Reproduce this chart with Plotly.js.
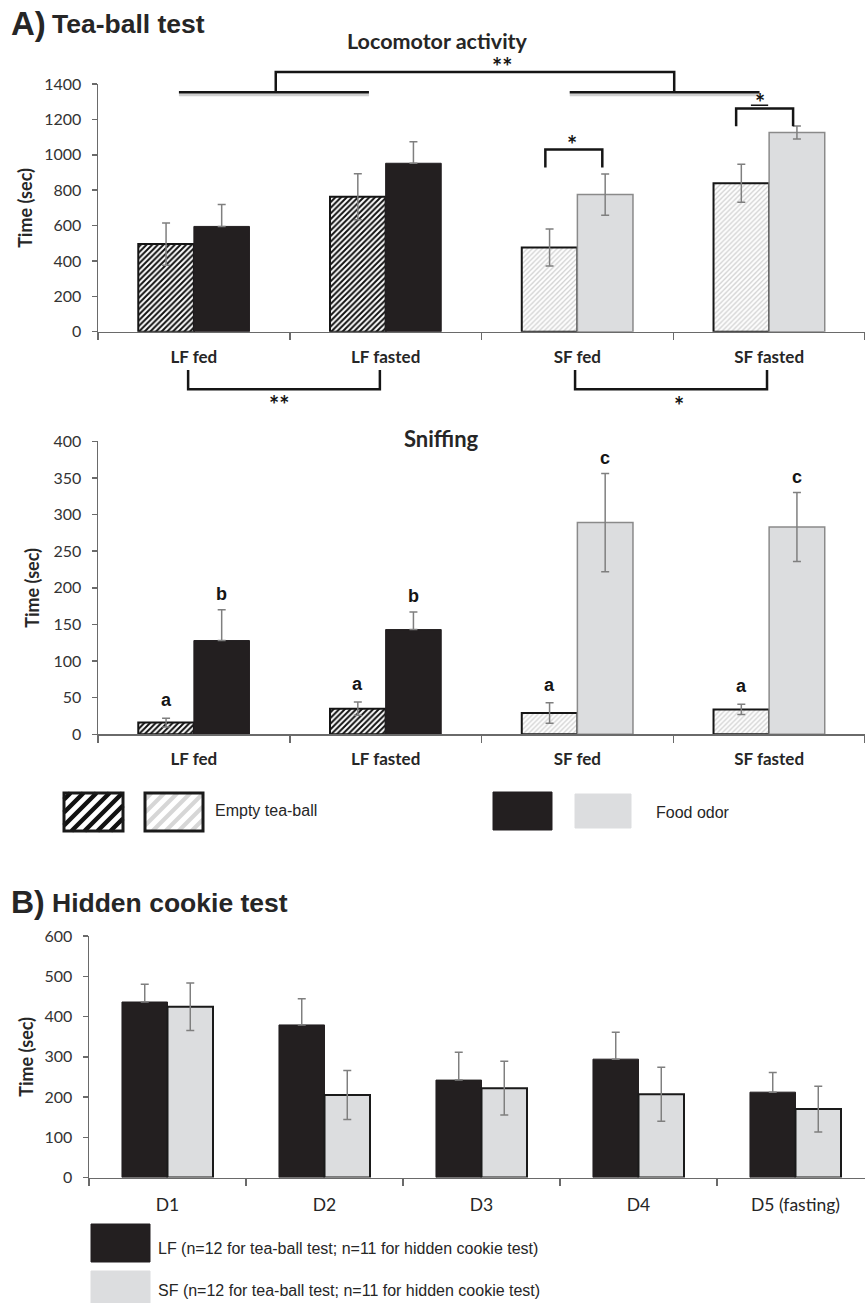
<!DOCTYPE html>
<html><head><meta charset="utf-8">
<script src="https://cdn.plot.ly/plotly-3.0.1.min.js"></script>
<style>html,body{margin:0;padding:0;background:#fff}#chart{width:865px;height:1303px}</style>
</head><body><div id="chart"></div>
<script>
// ---------------- Data ----------------
const teaCategories = ["LF fed", "LF fasted", "SF fed", "SF fasted"];
const teaGroup = ["LF", "LF", "SF", "SF"];
const locoEmpty = [495, 763, 476, 839];
const locoEmptyErr = [120, 130, 104, 108];
const locoFood = [595, 952, 775, 1126];
const locoFoodErr = [124, 122, 117, 37];
const sniffEmpty = [16, 35, 29, 34];
const sniffEmptyErr = [6, 9, 14, 7];
const sniffFood = [128, 143, 289, 283];
const sniffFoodErr = [42, 24, 67, 47];
const sniffEmptyLetters = ["a", "a", "a", "a"];
const sniffFoodLetters = ["b", "b", "c", "c"];
const cookieCategories = ["D1", "D2", "D3", "D4", "D5 (fasting)"];
const cookieLF = [436, 379, 242, 294, 212];
const cookieLFErr = [44, 65, 69, 67, 49];
const cookieSF = [424, 205, 222, 207, 170];
const cookieSFErr = [59, 61, 67, 67, 57];

// ---------------- Styling ----------------
const W = 865, H = 1303;
const px = x => x / W, py = y => 1 - y / H;
const BLACK = '#231f20', GRAY = '#dcdddf', ERR = '#7f7f7f', AXIS = '#6a6a6a', TXT = '#262626';
const CAL = 'Lato, "Open Sans", sans-serif';
const ARI = '"Liberation Sans", Arial, sans-serif';
const BARGAP = 0.42;

const dom1x = [px(98), 1], dom1y = [py(331.7), py(84)];
const dom2x = [px(98), 1], dom2y = [py(734.3), py(441.3)];
const dom3x = [px(89), 1], dom3y = [py(1177.5), py(936)];
const range1x = [-0.5, 3.5], range3x = [-0.5, -0.5 + (W - 89) / 157];

const isLF = teaGroup.map(g => g === 'LF');
const barW = (1 - BARGAP) / 2;

function emptyMarker() {
  return {
    color: 'white',
    pattern: {
      shape: '/',
      fgcolor: isLF.map(l => l ? '#111111' : '#cdcdcd'),
      bgcolor: 'white',
      size: isLF.map(l => l ? 4 : 3.5),
      solidity: isLF.map(l => l ? 0.5 : 0.35)
    },
    line: { color: '#151515', width: 2 }
  };
}
function foodMarker() {
  return {
    color: isLF.map(l => l ? BLACK : GRAY),
    line: { color: isLF.map(l => l ? BLACK : '#8a8a8a'), width: isLF.map(l => l ? 1 : 1.5) }
  };
}
function errSym(arr) {
  return { type: 'data', array: arr, visible: true, color: ERR, thickness: 1.5, width: 4 };
}
function errUpperFor(arr, mask) {
  return { type: 'data', symmetric: false, array: arr, arrayminus: arr.map((e, i) => mask[i] ? 0 : e),
           visible: true, color: ERR, thickness: 1.5, width: 4 };
}

const traces = [
  { type: 'bar', x: teaCategories, y: locoEmpty, xaxis: 'x', yaxis: 'y', name: 'Empty tea-ball',
    marker: emptyMarker(), error_y: errSym(locoEmptyErr), hoverinfo: 'skip' },
  { type: 'bar', x: teaCategories, y: locoFood, xaxis: 'x', yaxis: 'y', name: 'Food odor',
    marker: foodMarker(), error_y: errUpperFor(locoFoodErr, isLF), hoverinfo: 'skip' },
  { type: 'bar', x: teaCategories, y: sniffEmpty, xaxis: 'x2', yaxis: 'y2', name: 'Empty tea-ball',
    marker: emptyMarker(), error_y: errSym(sniffEmptyErr), hoverinfo: 'skip' },
  { type: 'bar', x: teaCategories, y: sniffFood, xaxis: 'x2', yaxis: 'y2', name: 'Food odor',
    marker: foodMarker(), error_y: errUpperFor(sniffFoodErr, isLF), hoverinfo: 'skip' },
  { type: 'bar', x: cookieCategories, y: cookieLF, xaxis: 'x3', yaxis: 'y3', name: 'LF',
    marker: { color: BLACK, line: { color: BLACK, width: 1 } },
    error_y: errUpperFor(cookieLFErr, cookieLF.map(() => true)), hoverinfo: 'skip' },
  { type: 'bar', x: cookieCategories, y: cookieSF, xaxis: 'x3', yaxis: 'y3', name: 'SF',
    marker: { color: GRAY, line: { color: '#1a1a1a', width: 2 } },
    error_y: errSym(cookieSFErr), hoverinfo: 'skip' }
];

function xAxis(domain, anchor, range, bold, size, standoff) {
  return {
    domain, anchor, type: 'category', range, fixedrange: true,
    showline: true, linecolor: AXIS, linewidth: 1.5,
    ticks: 'outside', ticklen: 7, tickwidth: 1.5, tickcolor: AXIS, tickson: 'boundaries',
    showgrid: false, zeroline: false, ticklabelstandoff: standoff,
    tickfont: { family: CAL, size, color: TXT, weight: bold ? 'bold' : 'normal' }
  };
}
function yAxis(domain, anchor, range, dtick) {
  return {
    domain, anchor, range, dtick, fixedrange: true,
    showline: true, linecolor: AXIS, linewidth: 1.5,
    ticks: 'outside', ticklen: 5, tickwidth: 1.5, tickcolor: AXIS,
    showgrid: false, zeroline: false, ticklabelstandoff: 7,
    tickfont: { family: CAL, size: 16, color: '#333' }
  };
}

// converters from data space to paper space
const xp1 = c => dom1x[0] + (c - range1x[0]) / (range1x[1] - range1x[0]) * (dom1x[1] - dom1x[0]);
const yp1 = v => dom1y[0] + v / 1400 * (dom1y[1] - dom1y[0]);
const pxY = 1 / H;

const shapes = [];
const LW = 2.5;
function bracket(c0, c1, vLow, vHigh) {
  shapes.push({ type: 'path', xref: 'paper', yref: 'paper',
    path: `M ${xp1(c0)} ${yp1(vLow)} L ${xp1(c0)} ${yp1(vHigh)} L ${xp1(c1)} ${yp1(vHigh)} L ${xp1(c1)} ${yp1(vLow)}`,
    line: { color: '#151515', width: LW } });
}
function hline(c0, c1, v, shadow) {
  if (shadow) shapes.push({ type: 'line', xref: 'paper', yref: 'paper', x0: xp1(c0), x1: xp1(c1),
    y0: yp1(v) - 2.5 * pxY, y1: yp1(v) - 2.5 * pxY, line: { color: '#d0d0d0', width: 3 } });
  shapes.push({ type: 'line', xref: 'paper', yref: 'paper', x0: xp1(c0), x1: xp1(c1),
    y0: yp1(v), y1: yp1(v), line: { color: '#151515', width: LW } });
}
// significance marks for locomotor activity
hline(-0.078, 0.913, 1353, true);
hline(1.96, 2.95, 1353, true);
bracket(0.427, 2.505, 1353, 1468);
bracket(1.833, 2.13, 928, 1030);
bracket(2.828, 3.125, 1161, 1262);
bracket(-0.03, 0.97, -217, -325);
bracket(1.988, 2.989, -217, -325);
// underline of the star above SF fasted
shapes.push({ type: 'line', xref: 'paper', yref: 'paper', x0: xp1(2.905), x1: xp1(2.995),
  y0: yp1(1280), y1: yp1(1280), line: { color: '#151515', width: 1.5 } });

// ---- Legend swatches ----
function rectPx(x0, y0, x1, y1, fill, lineColor, lw) {
  shapes.push({ type: 'rect', xref: 'paper', yref: 'paper', x0: px(x0), x1: px(x1), y0: py(y1), y1: py(y0),
    fillcolor: fill, line: { color: lineColor, width: lw } });
}
function hatchPx(x0, y0, x1, y1, spacing, color, width) {
  const w = x1 - x0, h = y1 - y0;
  let p = '';
  for (let d = -h + spacing / 2; d < w; d += spacing) {
    const u0 = Math.max(0, -d), u1 = Math.min(h, w - d);
    if (u1 <= u0) continue;
    const xa = x0 + u0 + d, ya = y1 - u0, xb = x0 + u1 + d, yb = y1 - u1;
    p += `M ${px(xa)} ${py(ya)} L ${px(xb)} ${py(yb)} `;
  }
  shapes.push({ type: 'path', xref: 'paper', yref: 'paper', path: p, line: { color, width } });
}
rectPx(64, 793, 123, 831, 'white', 'rgba(0,0,0,0)', 0);
hatchPx(64, 793, 123, 831, 13, '#111', 4.5);
rectPx(64, 793, 123, 831, 'rgba(0,0,0,0)', '#1a1a1a', 3);
rectPx(145, 793, 203, 831, 'white', 'rgba(0,0,0,0)', 0);
hatchPx(145, 793, 203, 831, 13, '#d6d6d6', 4);
rectPx(145, 793, 203, 831, 'rgba(0,0,0,0)', '#1a1a1a', 3);
rectPx(493, 792, 552, 830, BLACK, BLACK, 1);
rectPx(575, 794, 631, 828, GRAY, GRAY, 1);
rectPx(91, 1224, 150, 1262, BLACK, BLACK, 1);
rectPx(91, 1271, 150, 1310, GRAY, GRAY, 1);

// ---------------- Annotations ----------------
const ann = [];
function txt(text, x, y, font, opts) {
  ann.push(Object.assign({ text, x, y, xref: 'paper', yref: 'paper', showarrow: false,
    xanchor: 'left', yanchor: 'middle', font }, opts || {}));
}
txt('A)', px(9), py(23), { family: ARI, size: 33, color: TXT, weight: 'bold' });
txt('Tea-ball test', px(50), py(24), { family: ARI, size: 26.5, color: TXT, weight: 'bold' });
txt('B)', px(9), py(902), { family: ARI, size: 32, color: TXT, weight: 'bold' });
txt('Hidden cookie test', px(50), py(903), { family: ARI, size: 26.5, color: TXT, weight: 'bold' });
txt('Locomotor activity', px(437), py(41), { family: CAL, size: 21.5, color: TXT, weight: 'bold' }, { xanchor: 'center' });
txt('Sniffing', px(441), py(438), { family: CAL, size: 22, color: TXT, weight: 'bold' }, { xanchor: 'center' });
const ytFont = { family: CAL, size: 18, color: TXT, weight: 'bold' };
txt('Time (sec)', px(25), (dom1y[0] + dom1y[1]) / 2, ytFont, { xanchor: 'center', textangle: -90 });
txt('Time (sec)', px(32), (dom2y[0] + dom2y[1]) / 2, ytFont, { xanchor: 'center', textangle: -90 });
txt('Time (sec)', px(26), (dom3y[0] + dom3y[1]) / 2, ytFont, { xanchor: 'center', textangle: -90 });
const legFont = { family: ARI, size: 16, color: TXT };
txt('Empty tea-ball', px(213), py(810), legFont);
txt('Food odor', px(654), py(812), legFont);
txt('LF (n=12 for tea-ball test; n=11 for hidden cookie test)', px(156), py(1248), legFont);
txt('SF (n=12 for tea-ball test; n=11 for hidden cookie test)', px(156), py(1290), legFont);

// stars
const starFont = { family: CAL, size: 24, color: '#151515', weight: 'bold' };
function star(text, c, v) {
  ann.push({ text, x: xp1(c), y: yp1(v), xref: 'paper', yref: 'paper', showarrow: false,
    xanchor: 'center', yanchor: 'middle', yshift: -4, font: starFont });
}
star('**', 1.607, 1523);
star('*', 1.972, 1081);
star('*', 2.952, 1318);
star('**', 0.444, -387);
star('*', 2.530, -393);

// letters above sniffing bars
const letterFont = { family: ARI, size: 18, color: '#151515', weight: 'bold' };
teaCategories.forEach((cat, i) => {
  ann.push({ text: sniffEmptyLetters[i], x: i - barW / 2, y: sniffEmpty[i] + sniffEmptyErr[i],
    xref: 'x2', yref: 'y2', showarrow: false, yanchor: 'bottom', yshift: 6, font: letterFont });
  ann.push({ text: sniffFoodLetters[i], x: i + barW / 2, y: sniffFood[i] + sniffFoodErr[i],
    xref: 'x2', yref: 'y2', showarrow: false, yanchor: 'bottom', yshift: 4, font: letterFont });
});

const layout = {
  width: W, height: H, margin: { l: 0, r: 0, t: 0, b: 0 },
  paper_bgcolor: 'white', plot_bgcolor: 'white', showlegend: false,
  barmode: 'group', bargap: BARGAP, bargroupgap: 0,
  xaxis: xAxis(dom1x, 'y', range1x, true, 17, 9),
  yaxis: yAxis(dom1y, 'x', [0, 1400], 200),
  xaxis2: xAxis(dom2x, 'y2', range1x, true, 17, 9),
  yaxis2: yAxis(dom2y, 'x2', [0, 400], 50),
  xaxis3: xAxis(dom3x, 'y3', range3x, false, 17.5, 11),
  yaxis3: yAxis(dom3y, 'x3', [0, 600], 100),
  shapes, annotations: ann
};

Plotly.newPlot('chart', traces, layout, { displayModeBar: false, staticPlot: true });
</script>
</body></html>
